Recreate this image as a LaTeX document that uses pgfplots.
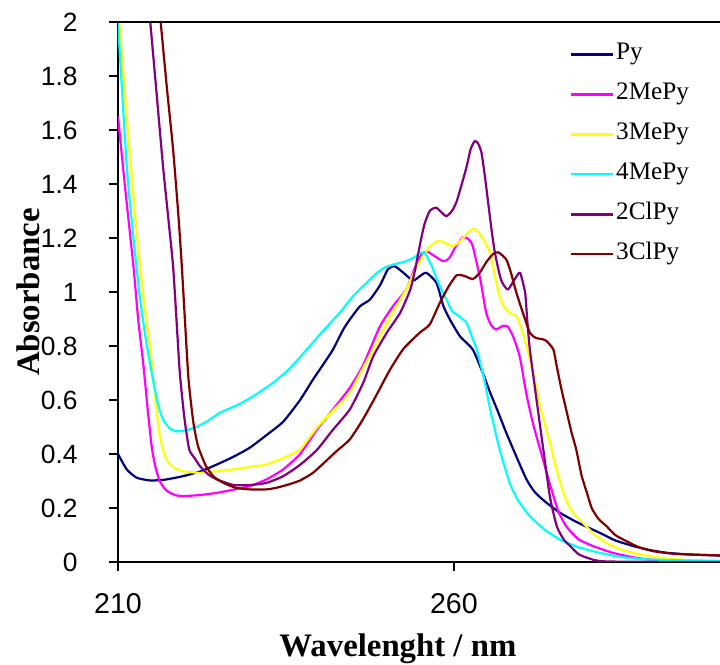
\documentclass[border=0pt]{standalone}
\usepackage{pgfplots}
\pgfplotsset{compat=1.18}
\usepackage{fontspec}
\setmainfont{Liberation Serif}
\newfontfamily\arialfont{Liberation Sans}
\definecolor{cPy}{RGB}{0,0,128}
\definecolor{cMeTwo}{RGB}{255,0,255}
\definecolor{cMeThree}{RGB}{255,255,0}
\definecolor{cMeFour}{RGB}{0,255,255}
\definecolor{cClTwo}{RGB}{128,0,128}
\definecolor{cClThree}{RGB}{128,0,0}

\pgfplotstableread{
x y
210 0.40
211.3 0.343
212.8 0.312
214.8 0.302
217 0.305
219.7 0.318
222.2 0.335
224.7 0.361
227.2 0.39
229.6 0.423
232.1 0.47
234.6 0.52
237.1 0.60
239.0 0.675
240.5 0.73
242.0 0.787
243.5 0.86
244.5 0.898
246.0 0.947
247.5 0.972
249.0 1.025
250.2 1.085
251.2 1.095
252.5 1.071
253.9 1.042
255.0 1.06
255.9 1.071
257.4 1.034
258.4 0.95
259.4 0.898
260.9 0.836
262.8 0.787
264.3 0.70
265.4 0.627
266.5 0.56
267.8 0.478
269.3 0.39
270.8 0.306
272.0 0.26
273.5 0.225
275.8 0.182
278.5 0.145
281.7 0.108
284 0.08
286.7 0.059
289 0.045
291.7 0.034
295 0.028
299.6 0.024
}\tPy

\pgfplotstableread{
x y
210 1.65
211 1.40
212.3 1.095
213.0 0.9
213.8 0.725
214.4 0.57
215.0 0.43
215.5 0.36
216.2 0.30
217.2 0.265
218.5 0.248
219.7 0.244
222.2 0.248
224.7 0.256
227.2 0.268
229.6 0.281
232.1 0.306
234.6 0.343
237.1 0.40
239.6 0.490
242.0 0.565
244.5 0.645
246.5 0.73
249.0 0.873
251.0 0.95
252.9 1.009
254.2 1.09
255.2 1.14
256.0 1.15
257.0 1.135
258.4 1.114
259.3 1.125
260.3 1.17
261.4 1.203
262.2 1.195
262.8 1.17
263.9 1.05
264.8 0.923
265.6 0.875
266.3 0.861
267.3 0.875
268.0 0.872
268.8 0.836
269.8 0.76
270.8 0.62
271.8 0.51
272.8 0.42
274.3 0.287
275.5 0.19
276.7 0.133
278.5 0.085
280.7 0.059
283.5 0.035
286.7 0.017
290 0.008
299.6 0.003
}\tMeTwo

\pgfplotstableread{
x y
210.2 2.0
211.5 1.59
212.8 1.219
213.8 0.98
214.8 0.787
215.5 0.62
216.2 0.47
217.2 0.38
218.3 0.35
219.7 0.336
222.2 0.330
224.7 0.336
227.2 0.343
229.6 0.352
232.1 0.361
234.6 0.385
237.1 0.417
239.6 0.497
242.0 0.56
244.5 0.627
246.5 0.72
249.0 0.836
251.0 0.93
252.9 1.009
254.2 1.08
255.4 1.133
256.5 1.17
257.7 1.19
258.8 1.18
259.9 1.17
261.0 1.19
262.3 1.225
263.1 1.234
264.0 1.21
265.4 1.145
266.1 1.06
266.8 0.984
267.6 0.94
268.3 0.923
269.3 0.910
270.0 0.87
270.8 0.80
272.0 0.68
272.8 0.58
274.3 0.441
275.2 0.35
276.3 0.256
277.5 0.19
279.2 0.145
281 0.1
282.7 0.071
285 0.045
287.7 0.028
291 0.015
295 0.007
299.6 0.003
}\tMeThree

\pgfplotstableread{
x y
210 2.0
211.3 1.466
212.3 1.2
213.3 0.972
214.3 0.80
215.3 0.664
216.0 0.58
216.7 0.528
217.7 0.495
218.7 0.484
220.0 0.487
221.7 0.50
223.5 0.525
225.2 0.553
228.1 0.585
230.5 0.62
233.1 0.664
235.5 0.715
238.1 0.787
240.5 0.855
243.0 0.923
245.0 0.985
247.0 1.034
248.5 1.07
249.9 1.093
251.5 1.105
252.9 1.114
254.2 1.13
255.2 1.147
255.8 1.14
256.8 1.09
257.9 1.021
258.9 0.972
259.7 0.93
260.4 0.917
261.4 0.898
261.9 0.886
262.6 0.84
263.4 0.787
264.4 0.688
265.4 0.565
266.8 0.417
268.3 0.293
269.5 0.23
271.3 0.170
273.5 0.12
275.8 0.083
278.5 0.055
281.7 0.034
285 0.018
289.2 0.009
299.6 0.003
}\tMeFour

\pgfplotstableread{
x y
214.8 2.0
215.8 1.72
216.7 1.466
217.5 1.27
218.2 1.095
218.7 0.90
219.2 0.70
219.9 0.53
220.6 0.417
221.4 0.385
222.2 0.355
223.4 0.325
224.7 0.306
227.2 0.285
229.6 0.285
232.1 0.293
234.6 0.318
237.1 0.36
239.6 0.415
242.0 0.49
244.5 0.565
246.5 0.664
248.0 0.762
250.0 0.849
252.0 0.923
253.5 1.009
254.2 1.08
254.9 1.17
255.6 1.25
256.4 1.30
257.4 1.312
258.8 1.281
259.7 1.30
260.4 1.335
261.4 1.42
261.9 1.466
262.5 1.53
263.1 1.559
263.6 1.55
264.1 1.516
264.6 1.43
265.1 1.33
265.6 1.23
266.1 1.145
267.0 1.046
268.0 1.009
269.0 1.046
269.6 1.068
269.9 1.069
270.6 0.997
270.9 0.90
271.3 0.787
272.3 0.60
273.3 0.417
274.3 0.24
275.3 0.133
276.3 0.085
277.3 0.059
278.5 0.03
279.8 0.016
282.7 0.002
299.6 0.0
}\tClTwo

\pgfplotstableread{
x y
216.35 2.0
217.3 1.75
218.2 1.528
219.0 1.28
219.5 1.095
220.0 0.88
220.5 0.676
221.2 0.52
221.9 0.43
223.1 0.355
224.3 0.315
225.7 0.293
227.5 0.275
229.6 0.269
232.1 0.269
233.6 0.275
235.5 0.288
237.1 0.302
239.0 0.33
241.0 0.375
242.5 0.41
244.5 0.454
246.5 0.53
248.5 0.62
250.5 0.713
252.5 0.79
254.9 0.849
256.4 0.88
257.9 0.96
259.2 1.02
260.4 1.062
261.5 1.06
262.8 1.048
263.8 1.07
264.8 1.11
265.8 1.14
266.6 1.147
267.8 1.12
268.5 1.07
269.3 0.997
270.3 0.92
271.3 0.849
272.2 0.83
273.2 0.825
273.8 0.818
274.8 0.787
275.3 0.725
276.0 0.64
276.7 0.565
277.5 0.48
278.2 0.417
279.0 0.32
279.8 0.256
280.5 0.20
281.5 0.16
282.7 0.133
284 0.1
285.7 0.077
287.5 0.055
289.7 0.040
293 0.03
299.6 0.024
}\tClThree

\begin{document}
\begin{tikzpicture}
\begin{axis}[
  name=ax, at={(0,0)}, anchor=south west,
  scale only axis, width=301pt, height=270pt,
  xmin=210, xmax=299.6, ymin=0, ymax=2,
  axis x line*=bottom, axis y line*=left,
  axis line style={-, line width=1pt, black},
  xtick={210,260},
  ytick={0,0.2,0.4,0.6,0.8,1,1.2,1.4,1.6,1.8,2},
  tick align=outside, major tick length=4.5pt,
  tick style={line width=0.8pt, black},
  /pgf/number format/assume math mode=true,
  yticklabel style={font=\arialfont\fontsize{13.2}{15}\selectfont, anchor=east, inner sep=0pt, xshift=-15.5pt},
  xticklabel style={font=\arialfont\fontsize{14.3}{16}\selectfont, anchor=north, inner sep=0pt, yshift=-11pt},
  xlabel={Wavelenght / nm},
  ylabel={Absorbance},
  xlabel style={at={(axis description cs:0.465,-0.175)}, anchor=base, font=\bfseries\fontsize{16.4}{18}\selectfont},
  ylabel style={at={(axis description cs:-0.1495,0.5)}, anchor=center, font=\bfseries\fontsize{16.4}{18}\selectfont},
  legend style={draw=none, fill=none, at={(rel axis cs:0,1)}, anchor=north west,
    xshift=225.8pt, yshift=-9.5pt, inner sep=0pt, row sep=7pt,
    nodes={font=\fontsize{12.6}{14}\selectfont, inner sep=1pt, text height=8pt, text depth=3pt}},
  legend cell align=left,
  legend image code/.code={\draw[#1] (0pt,0pt) -- (21pt,0pt);},
  legend style={/tikz/every odd column/.append style={xshift=-0.5pt}, /tikz/every even column/.append style={xshift=2.5pt}},
  every axis plot/.append style={line width=1.1pt, line join=round},
]
\addplot[cPy, smooth, tension=0.35] table {\tPy};
\addlegendentry{Py}
\addplot[cMeTwo, smooth, tension=0.35] table {\tMeTwo};
\addlegendentry{2MePy}
\addplot[cMeThree, smooth, tension=0.35] table {\tMeThree};
\addlegendentry{3MePy}
\addplot[cMeFour, smooth, tension=0.35] table {\tMeFour};
\addlegendentry{4MePy}
\addplot[cClTwo, smooth, tension=0.35] table {\tClTwo};
\addlegendentry{2ClPy}
\addplot[cClThree, smooth, tension=0.35] table {\tClThree};
\addlegendentry{3ClPy}
\end{axis}
\draw[line width=1pt] (ax.north west) -- (ax.north east);
\pgfresetboundingbox
\path ([shift={(-59pt,-51.25pt)}]ax.south west) rectangle ([shift={(0pt,11pt)}]ax.north east);
\end{tikzpicture}
\end{document}
